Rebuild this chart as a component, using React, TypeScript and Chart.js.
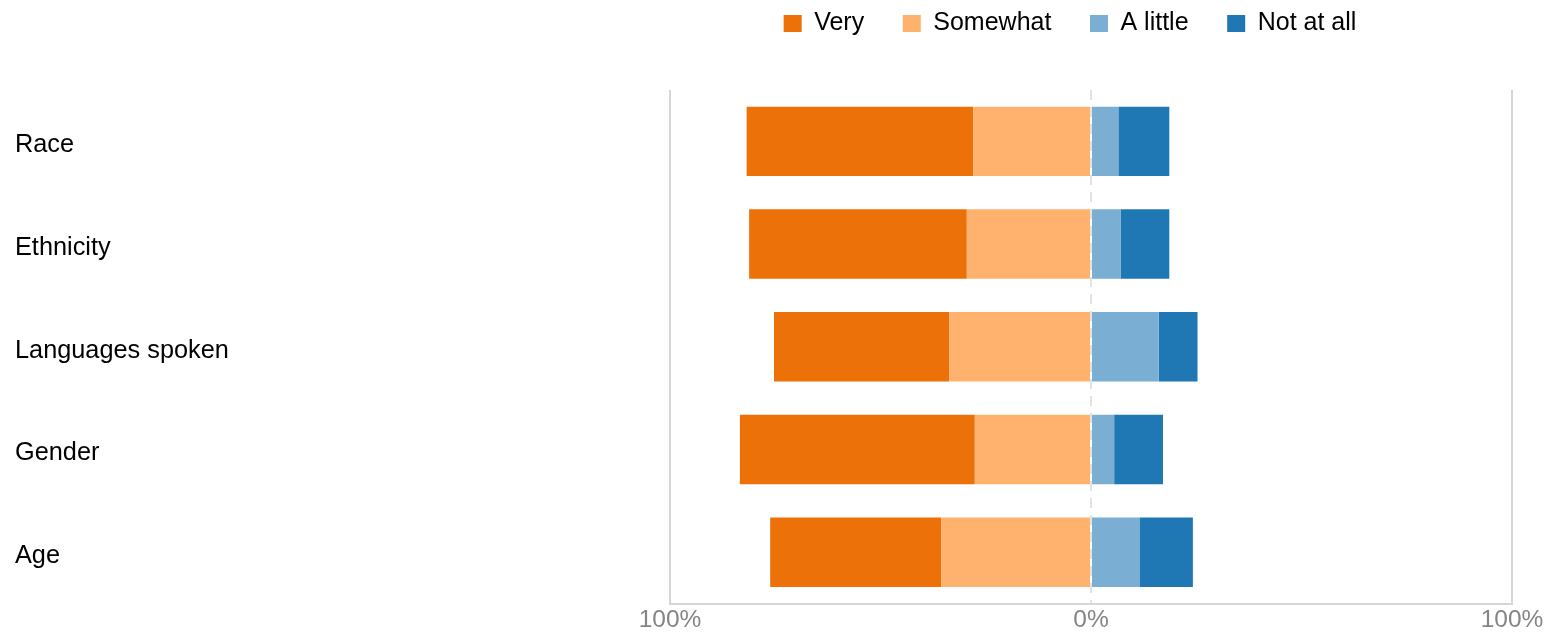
import React, { useEffect, useRef } from "react";
import { Chart, registerables } from "chart.js";

Chart.register(...registerables);

const categories = ["Race", "Ethnicity", "Languages spoken", "Gender", "Age"];
const seriesNames = ["Very", "Somewhat", "A little", "Not at all"];
const veryValues = [53.8, 51.7, 41.6, 55.8, 40.6];
const somewhatValues = [28.0, 29.5, 33.7, 27.6, 35.6];
const aLittleValues = [6.5, 7.1, 16.1, 5.5, 11.5];
const notAtAllValues = [12.1, 11.5, 9.2, 11.6, 12.7];
const seriesColors = ["#EB7108", "#FFB26E", "#7BAED3", "#1F77B4"];
const xTickValues = [-100, 0, 100];

const FONT = "'Liberation Sans', Arial, Helvetica, sans-serif";

export default function App() {
  const canvasRef = useRef<HTMLCanvasElement | null>(null);

  useEffect(() => {
    if (!canvasRef.current) return;
    const legendShift = {
      id: "legendShift",
      afterLayout(chart: any) {
        const lg = chart.legend;
        if (!lg) return;
        lg.left -= 21;
        lg.right -= 21;
        lg.top -= 44;
        lg.bottom -= 44;
      },
    };
    const chart = new Chart(canvasRef.current, {
      type: "bar",
      data: {
        labels: categories,
        datasets: [
          { label: seriesNames[0], data: veryValues.map((v) => -v), backgroundColor: seriesColors[0], order: 1 },
          { label: seriesNames[1], data: somewhatValues.map((v) => -v), backgroundColor: seriesColors[1], order: 0 },
          { label: seriesNames[2], data: aLittleValues, backgroundColor: seriesColors[2], order: 2 },
          { label: seriesNames[3], data: notAtAllValues, backgroundColor: seriesColors[3], order: 3 },
        ],
      },
      options: {
        indexAxis: "y",
        animation: false,
        responsive: true,
        maintainAspectRatio: false,
        datasets: { bar: { categoryPercentage: 1, barPercentage: 0.676, borderWidth: 0 } },
        layout: { padding: { top: 16.4, left: 15, right: 43, bottom: 0 } },
        plugins: {
          tooltip: { enabled: false },
          legend: {
            position: "top",
            fullSize: false,
            align: "center",
            labels: {
              boxWidth: 18,
              boxHeight: 17,
              padding: 38.6,
              color: "#000",
              font: { family: FONT, size: 25 },
              sort: (a: any, b: any) => a.datasetIndex - b.datasetIndex,
            },
          },
        },
        scales: {
          x: {
            type: "linear",
            stacked: true,
            min: -100,
            max: 100,
            afterBuildTicks: (scale: any) => {
              scale.ticks = xTickValues.map((v) => ({ value: v }));
            },
            grid: {
              color: (ctx: any) => (ctx.tick && ctx.tick.value === 0 ? "rgba(0,0,0,0)" : "#d6d6d6"),
              lineWidth: 2,
              drawTicks: false,
            },
            border: { display: true, color: "#d6d6d6", width: 2 },
            ticks: {
              padding: 3,
              color: "#858585",
              font: { family: FONT, size: 24.5, lineHeight: 1.08 },
              callback: (v: any) => Math.abs(Number(v)) + "%",
            },
          },
          x2: {
            type: "linear",
            position: "bottom",
            min: -100,
            max: 100,
            afterBuildTicks: (scale: any) => {
              scale.ticks = xTickValues.map((v) => ({ value: v }));
            },
            afterFit: (scale: any) => {
              scale.height = 0;
            },
            grid: {
              color: (ctx: any) => (ctx.tick && ctx.tick.value === 0 ? "#e2e2e2" : "rgba(0,0,0,0)"),
              lineWidth: 2,
              drawTicks: false,
            },
            border: { display: false, dash: [10, 7] },
            ticks: { display: false },
          },
          y: {
            type: "category",
            stacked: true,
            afterFit: (scale: any) => {
              scale.width = 655;
            },
            grid: { display: false, drawTicks: false },
            border: { display: false },
            ticks: {
              crossAlign: "far",
              padding: 0,
              labelOffset: 4,
              color: "#000",
              font: { family: FONT, size: 25.3 },
            },
          },
        },
      },
      plugins: [legendShift],
    } as any);
    return () => chart.destroy();
  }, []);

  return (
    <div style={{ position: "absolute", left: 0, top: 0, width: 1555, height: 636, background: "#fff" }}>
      <canvas ref={canvasRef} />
    </div>
  );
}
